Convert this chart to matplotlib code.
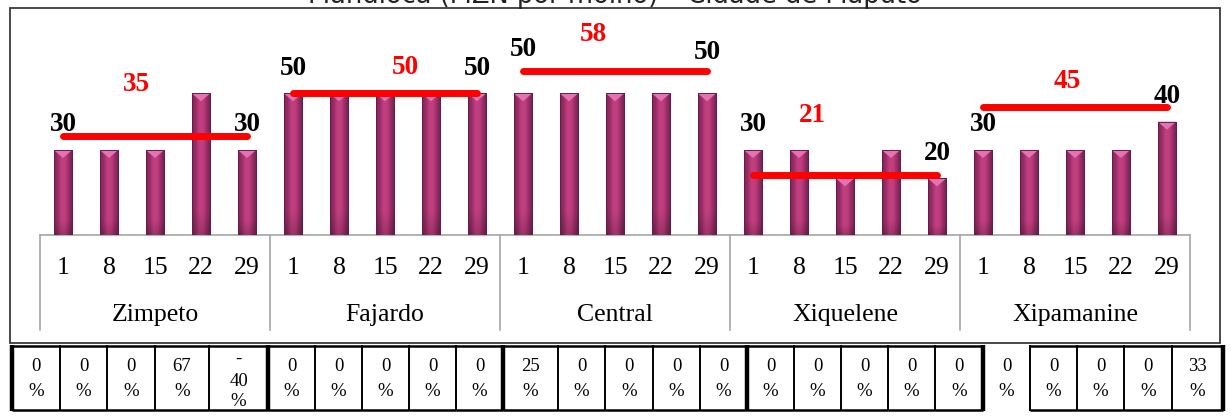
import numpy as np
import matplotlib
matplotlib.use("Agg")
import matplotlib.pyplot as plt
from matplotlib.patches import Polygon, Rectangle
from matplotlib.colors import to_rgb
import matplotlib.transforms as mtransforms

# ---------------- data ----------------
title = "Mandioca (MZN por molho) – Cidade de Maputo"
markets = ["Zimpeto", "Fajardo", "Central", "Xiquelene", "Xipamanine"]
days = ["1", "8", "15", "22", "29"]
zimpeto = [30, 30, 30, 50, 30]
fajardo = [50, 50, 50, 50, 50]
central = [50, 50, 50, 50, 50]
xiquelene = [30, 30, 20, 30, 20]
xipamanine = [30, 30, 30, 30, 40]
monthly_avg = [35, 50, 58, 21, 45]
pct_zimpeto = [0, 0, 0, 67, -40]
pct_fajardo = [0, 0, 0, 0, 0]
pct_central = [25, 0, 0, 0, 0]
pct_xiquelene = [0, 0, 0, 0, 0]
pct_xipamanine = [0, 0, 0, 0, 33]

# ---------------- layout / style ----------------
W, H = 1231, 418
SERIF = ["Liberation Serif", "DejaVu Serif"]
series = [zimpeto, fajardo, central, xiquelene, xipamanine]
pcts = [pct_zimpeto, pct_fajardo, pct_central, pct_xiquelene, pct_xipamanine]
values = [v for s in series for v in s]
pct_all = [p for s in pcts for p in s]
n = len(values)
x = np.arange(n)

avg_label_pos = [1.6, 2.45, 1.52, 1.28, 1.84]      # position of red label inside group
avg_label_off = [51, 26, 36, 60, 26]               # px above red line
end_label_off = [[25, 25], [25, 25], [44, 41], [25, 25], [25, 25]]

fig = plt.figure(figsize=(W / 100, H / 100), dpi=100)
lay = fig.add_axes([0, 0, 1, 1])
lay.set_xlim(0, W)
lay.set_ylim(H, 0)
lay.axis("off")

ax_bottom, ax_top = 235, 8
ax = fig.add_axes([40 / W, (H - ax_bottom) / H, 1150 / W, (ax_bottom - ax_top) / H])
ax.axis("off")
ppu = 2.834
ax.set_xlim(-0.5, n - 0.5)
ax.set_ylim(0, (ax_bottom - ax_top) / ppu)

# chart frame
lay.add_patch(Rectangle((10, 8), 1210, 335, fill=False, ec="#3a3a3a", lw=1.3, zorder=0))

# title (clipped at top, as in the original)
lay.text(615, 3, title, ha="center", va="baseline", fontsize=18.5,
         family="DejaVu Sans", color="#222222")

# bars with gradient
bar_w = 0.4
bars = ax.bar(x, values, width=bar_w, color="#a8336f", edgecolor="#6a1c47",
              linewidth=0.7, zorder=2)
stops = ["#7a2356", "#9a2e69", "#c3407f", "#c03d7d", "#962d66", "#6c1f4c"]
pos = np.linspace(0, 1, len(stops))
cols = np.array([to_rgb(c) for c in stops])
xs = np.linspace(0, 1, 64)
row = np.stack([np.interp(xs, pos, cols[:, k]) for k in range(3)], axis=-1)
vert = np.linspace(0.82, 1.0, 40)
vert = np.minimum(1.0, 0.82 + (vert - 0.82) * 6)
grad = row[None, :, :] * vert[:, None, None]
tri_h = 8 / ppu
for b in bars:
    x0 = b.get_x()
    x1 = x0 + b.get_width()
    h = b.get_height()
    im = ax.imshow(grad, extent=(x0, x1, 0, h), origin="lower", aspect="auto",
                   interpolation="bilinear", zorder=2.1)
    im.set_clip_path(b)
    ax.add_patch(Polygon([[x0, h], [x1, h], [(x0 + x1) / 2, h - tri_h]],
                         closed=True, fc="#e473b4", ec="none", zorder=2.2))
    ax.add_patch(Rectangle((x0, 0), b.get_width(), h, fill=False,
                           ec="#6a1c47", lw=0.7, zorder=2.3))
ax.set_xlim(-0.5, n - 0.5)
ax.set_ylim(0, (ax_bottom - ax_top) / ppu)

# red average lines and labels
for g, avg in enumerate(monthly_avg):
    a, b_ = g * 5, g * 5 + 4
    ax.plot([a, b_], [avg, avg], color="#ff0000", lw=5, solid_capstyle="round", zorder=3)
    ax.annotate(str(avg), xy=(a + avg_label_pos[g], avg), xytext=(0, avg_label_off[g]),
                textcoords="offset pixels", ha="center", va="center", color="#ff0000",
                fontweight="bold", family=SERIF, fontsize=19.5, zorder=4)
    for k, idx in enumerate([a, b_]):
        ax.annotate(str(values[idx]), xy=(idx, values[idx]),
                    xytext=(0, end_label_off[g][k]), textcoords="offset pixels",
                    ha="center", va="center", color="black", fontweight="bold",
                    family=SERIF, fontsize=19.5, zorder=4)

# category axis (two levels)
blend = mtransforms.blended_transform_factory(ax.transData, lay.transData)
lay.plot([-0.5, n - 0.5], [235, 235], transform=blend, color="#a6a6a6", lw=1.2)
for g in range(len(markets) + 1):
    lay.plot([g * 5 - 0.5] * 2, [235, 330], transform=blend, color="#a6a6a6", lw=1.2)
for i in range(n):
    lay.text(i, 268, days[i % 5], transform=blend, ha="center", va="center",
             family=SERIF, fontsize=18.5)
for g, m in enumerate(markets):
    lay.text(g * 5 + 2, 315, m, transform=blend, ha="center", va="center",
             family=SERIF, fontsize=18.5)

# percentage table
cell_w = [48, 47, 48, 54, 59, 47, 47, 47, 47, 47, 55, 47, 48, 47, 47,
          47, 47, 47, 47, 48, 47, 47, 47, 48, 51]
edges = np.concatenate([[12], 12 + np.cumsum(cell_w)])
top, bot = 346, 410
for i in range(n):
    if i == 20:
        continue
    lay.plot([edges[i], edges[i + 1]], [top, top], color="black", lw=1.8, solid_capstyle="butt")
    lay.plot([edges[i], edges[i + 1]], [bot, bot], color="black", lw=1.8, solid_capstyle="butt")
for i, e in enumerate(edges):
    thick = (i % 5 == 0)
    lay.plot([e, e], [top - 1, bot + 1], color="black", lw=3.2 if thick else 1.4,
             solid_capstyle="butt")
for i, p in enumerate(pct_all):
    cx = (edges[i] + edges[i + 1]) / 2
    if p < 0:
        lines = [("-", 364), (str(abs(p)), 386), ("%", 406)]
    else:
        lines = [(str(p), 371), ("%", 396)]
    for t, yb in lines:
        lay.text(cx, yb, t, ha="center", va="baseline", family=SERIF, fontsize=13.5)

fig.savefig("out.png", dpi=100)
